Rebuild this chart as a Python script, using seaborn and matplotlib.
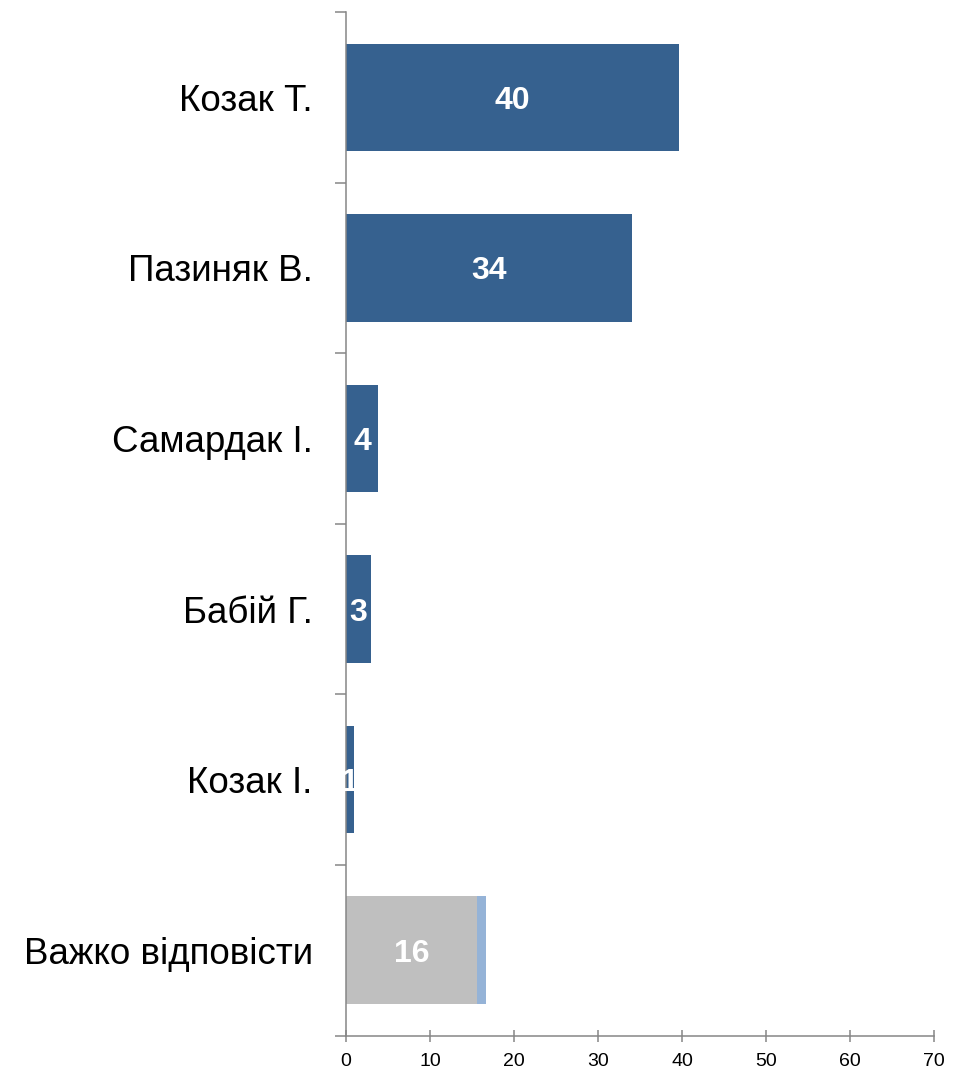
import numpy as np
import pandas as pd
import matplotlib.pyplot as plt
import seaborn as sns
from matplotlib.ticker import FixedLocator

# data
categories = ["Козак Т.", "Пазиняк В.", "Самардак І.", "Бабій Г.", "Козак І.", "Важко відповісти"]
values = [39.6, 34.0, 3.8, 3.0, 0.95, 15.6]
extra = [0, 0, 0, 0, 0, 1.07]  # light blue piece on the last bar
labels = ["40", "34", "4", "3", "1", "16"]
colors = ["#36618F", "#36618F", "#36618F", "#36618F", "#36618F", "#BFBFBF"]

df = pd.DataFrame({"cat": categories, "val": values, "extra": extra})
df["total"] = df["val"] + df["extra"]

sns.set_style("white")
plt.rcParams['font.family'] = ['Liberation Sans', 'DejaVu Sans']
plt.rcParams['text.color'] = 'black'
plt.rcParams['xtick.labelcolor'] = 'black'
plt.rcParams['ytick.labelcolor'] = 'black'

fig = plt.figure(figsize=(9.66, 10.69), dpi=100)
ax = fig.add_axes([346 / 966, 1 - 1035.5 / 1069, (934 - 346) / 966, (1035.5 - 12) / 1069])

# totals underneath in light blue, then the main bars on top
sns.barplot(data=df, y="cat", x="total", color="#95B3D7", width=0.63, saturation=1,
            linewidth=0, ax=ax)
sns.barplot(data=df, y="cat", x="val", hue="cat", palette=colors, width=0.63,
            saturation=1, linewidth=0, legend=False, ax=ax)

for i, (v, lab) in enumerate(zip(values, labels)):
    ax.text(v / 2, i, lab, ha="center", va="center_baseline", color="white",
            fontsize=23, fontweight="bold")

ax.set_xlim(0, 70)
ax.set_ylim(len(categories) - 0.5, -0.5)
ax.set_xticks(np.arange(0, 71, 10))
ax.set_xlabel("")
ax.set_ylabel("")

# ticks at the category boundaries on the y axis
ax.yaxis.set_minor_locator(FixedLocator(np.arange(-0.5, len(categories), 1)))
ax.tick_params(axis="y", which="major", length=0, pad=24, labelsize=26.5)
ax.tick_params(axis="y", which="minor", length=8, width=1.1, color="#868686", direction="out", left=True)
ax.tick_params(axis="x", which="major", length=9, width=1.1, color="#868686", direction="inout",
               bottom=True, pad=8, labelsize=14)

for s in ["top", "right"]:
    ax.spines[s].set_visible(False)
for s in ["left", "bottom"]:
    ax.spines[s].set_color("#868686")
    ax.spines[s].set_linewidth(1.1)

plt.savefig("out.png", dpi=100)
